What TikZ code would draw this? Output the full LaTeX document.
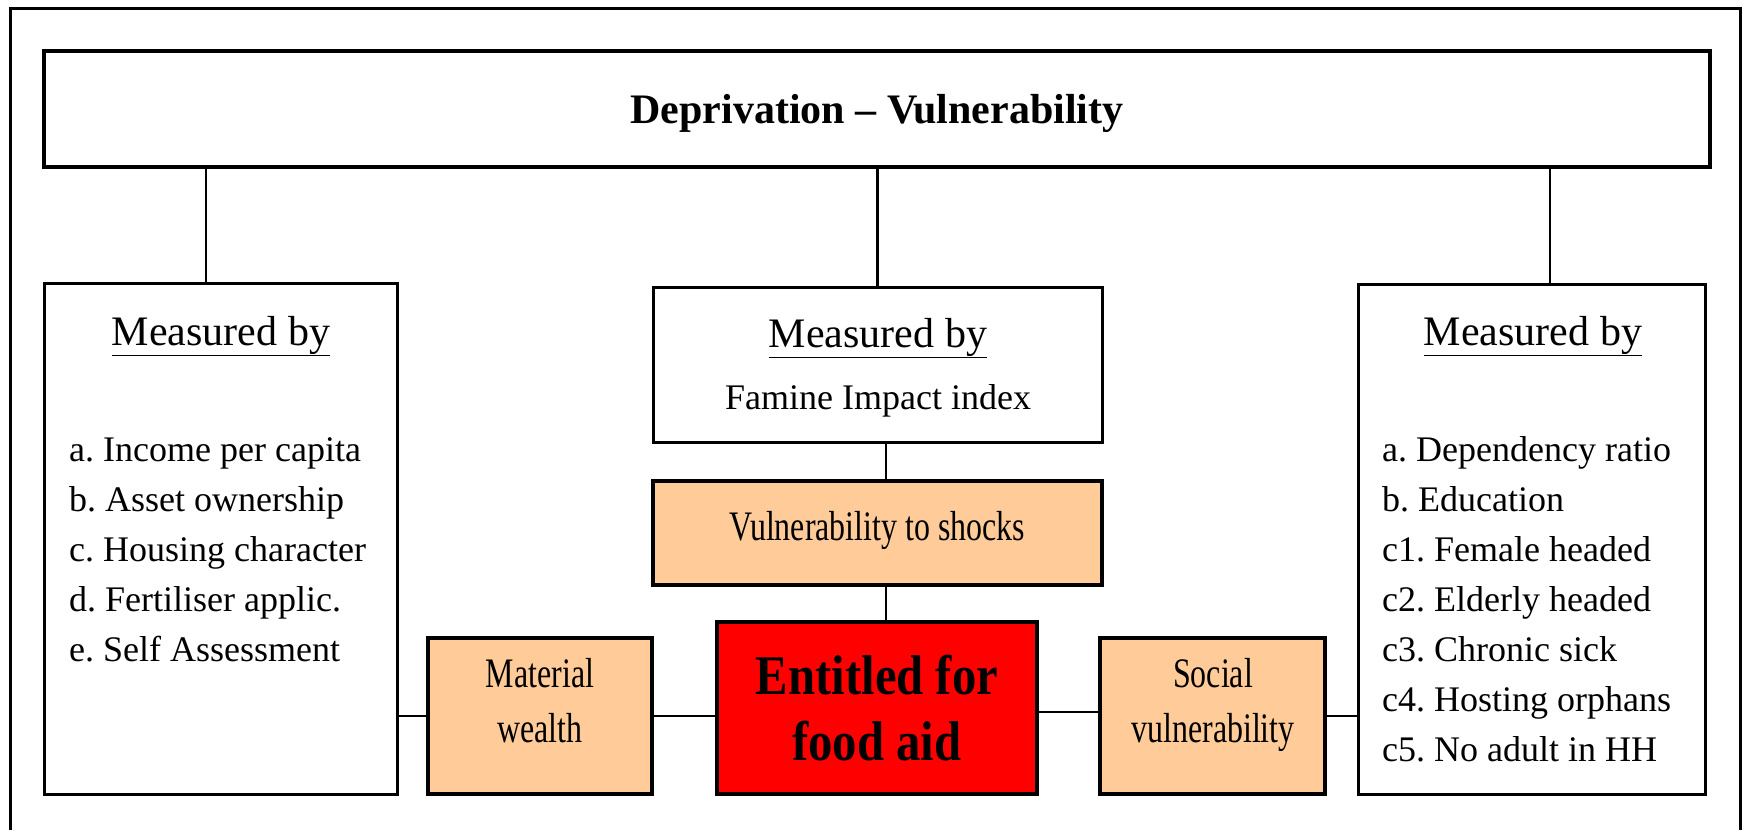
\documentclass[tikz,border=0pt]{standalone}
\usepackage{fontspec}
\setmainfont{Liberation Serif}
\newfontfamily\condfont{Liberation Serif}[FakeStretch=0.76]
\newfontfamily\bigcondfont{Liberation Serif}[FakeStretch=0.87]
\usepackage{xcolor}
\usepackage{tikz}
\definecolor{peach}{RGB}{255,204,153}
\definecolor{alarm}{RGB}{255,0,0}
\frenchspacing

\begin{document}
\begin{tikzpicture}[x=1pt, y=-1pt,
    box/.style = {draw, line width=3pt, inner sep=0pt},
    tint/.style = {box, line width=3.5pt, fill=peach},
    link/.style = {line width=2.5pt},
    txt/.style = {inner sep=0pt, anchor=base, font=\fontsize{36}{40}\selectfont},
    item/.style = {txt, anchor=base west},
    head/.style = {txt, font=\fontsize{42}{48}\selectfont},
    soft/.style = {txt, font=\condfont\fontsize{42}{48}\selectfont},
    loud/.style = {txt, font=\bigcondfont\bfseries\fontsize{56}{60}\selectfont}]
    \useasboundingbox (0, 0) rectangle (1742, 830);
    \draw[line width=3pt] (10, 830) -- (10, 8) -- (1740, 8) -- (1740, 830);

    \node[box, line width=4pt, minimum width=1666pt, minimum height=116pt] (top) at (877, 109) {};
    \node[box, minimum width=353pt, minimum height=511pt] (lbox) at (220.5, 538.5) {};
    \node[box, minimum width=449pt, minimum height=155pt] (cbox) at (877.5, 364.5) {};
    \node[box, minimum width=347pt, minimum height=510pt] (rbox) at (1531.5, 539) {};
    \node[tint, minimum width=449pt, minimum height=104pt] (vbox) at (877.5, 533) {};
    \node[tint, minimum width=224pt, minimum height=156pt] (mbox) at (540, 716) {};
    \node[tint, minimum width=225pt, minimum height=156pt] (sbox) at (1212.5, 716) {};
    \node[tint, fill=alarm, minimum width=320pt, minimum height=172pt] (ebox) at (877, 708) {};

    \coordinate (lx) at (206, 0);
    \coordinate (rx) at (1550, 0);
    \coordinate (mx) at (886, 0);
    \coordinate (ly) at (0, 716);
    \coordinate (ry) at (0, 712);
    \draw[link] (top.south -| lx) -- (lbox.north -| lx);
    \draw[link] (top.south -| cbox.north) -- (cbox.north);
    \draw[link] (top.south -| rx) -- (rbox.north -| rx);
    \draw[link] (cbox.south -| mx) -- (vbox.north -| mx);
    \draw[link] (vbox.south -| mx) -- (ebox.north -| mx);
    \draw[link] (lbox.east |- ly) -- (mbox.west |- ly);
    \draw[link] (mbox.east |- ly) -- (ebox.west |- ly);
    \draw[link] (ebox.east |- ry) -- (sbox.west |- ry);
    \draw[link] (sbox.east |- ly) -- (rbox.west |- ly);

    \node[head, font=\bfseries\fontsize{42}{48}\selectfont] (title) at (877, 123) {Deprivation -- Vulnerability};

    \node[head] (lhead) at (221, 345) {\underline{Measured by}};
    \node[item] (la) at (69, 461) {a. Income per capita};
    \node[item] (lb) at (69, 511) {b. Asset ownership};
    \node[item] (lc) at (69, 561) {c. Housing character};
    \node[item] (ld) at (69, 611) {d. Fertiliser applic.};
    \node[item] (le) at (69, 661) {e. Self Assessment};

    \node[head] (chead) at (878, 347) {\underline{Measured by}};
    \node[txt] (famine) at (878, 409) {Famine Impact index};

    \node[head] (rhead) at (1533, 345) {\underline{Measured by}};
    \node[item] (ra) at (1382, 461) {a. Dependency ratio};
    \node[item] (rb) at (1382, 511) {b. Education};
    \node[item] (rc1) at (1382, 561) {c1. Female headed};
    \node[item] (rc2) at (1382, 611) {c2. Elderly headed};
    \node[item] (rc3) at (1382, 661) {c3. Chronic sick};
    \node[item] (rc4) at (1382, 711) {c4. Hosting orphans};
    \node[item] (rc5) at (1382, 761) {c5. No adult in HH};

    \node[soft] (vtxt) at (877, 540) {Vulnerability to shocks};
    \node[soft] (mtxt1) at (540, 687) {Material};
    \node[soft] (mtxt2) at (540, 742) {wealth};
    \node[soft] (stxt1) at (1213, 687) {Social};
    \node[soft] (stxt2) at (1213, 742) {vulnerability};
    \node[loud] (etxt1) at (877, 694) {Entitled for};
    \node[loud] (etxt2) at (877, 760) {food aid};
\end{tikzpicture}
\end{document}
